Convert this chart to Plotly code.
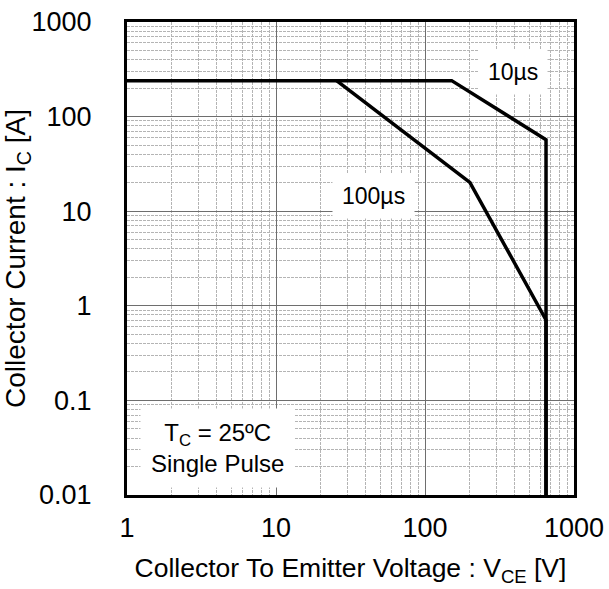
import numpy as np
import plotly.graph_objects as go

# 10 µs SOA boundary
vce_10us = [1, 151, 649, 649]
ic_10us = [240, 240, 57, 0.01]
# 100 µs SOA boundary
vce_100us = [25.5, 200, 649, 649]
ic_100us = [240, 20.2, 0.71, 0.01]

x_ticks = [1, 10, 100, 1000]
x_ticktext = ["1", "10", "100", "1000"]
y_ticks = [0.01, 0.1, 1, 10, 100, 1000]
y_ticktext = ["0.01", "0.1", "1", "10", "100", "1000"]

FONT = "Liberation Sans, Arial, sans-serif"

fig = go.Figure()
fig.add_trace(go.Scatter(x=vce_10us, y=ic_10us, mode="lines",
                         line=dict(color="black", width=3.5), showlegend=False))
fig.add_trace(go.Scatter(x=vce_100us, y=ic_100us, mode="lines",
                         line=dict(color="black", width=3.5), showlegend=False))

axis_common = dict(
    type="log",
    showline=True, mirror=True, linecolor="black", linewidth=3,
    showgrid=True, gridcolor="#6e6e6e", gridwidth=1,
    minor=dict(dtick="D1", showgrid=True, gridcolor="#b4b4b4", griddash="3px,1px", gridwidth=1, ticks=""),
    ticks="", zeroline=False,
    tickfont=dict(family=FONT, size=27, color="black"),
)

fig.update_xaxes(**axis_common, range=[0, 3], tickvals=x_ticks, ticktext=x_ticktext,
                 ticklabelstandoff=7, automargin=False,
                 title=dict(text="Collector To Emitter Voltage : V<sub>CE</sub> [V]",
                            font=dict(family=FONT, size=26.5, color="black"), standoff=17))
fig.update_yaxes(**axis_common, range=[-2, 3], tickvals=y_ticks, ticktext=y_ticktext,
                 ticklabelstandoff=27, automargin=False,
                 title=dict(text="Collector Current : I<sub>C</sub> [A]",
                            font=dict(family=FONT, size=28, color="black"), standoff=4))

fig.add_annotation(x=np.log10(390), y=np.log10(296), text="10µs", showarrow=False,
                   bgcolor="white", font=dict(family=FONT, size=23, color="black"), borderpad=9)
fig.add_annotation(x=np.log10(44.8), y=np.log10(14.4), text="100µs", showarrow=False,
                   bgcolor="white", font=dict(family=FONT, size=23, color="black"), borderpad=9)
fig.add_annotation(x=0.604, y=-1.503, text="T<sub>C</sub> = 25ºC<br>Single Pulse", showarrow=False,
                   bgcolor="white", font=dict(family=FONT, size=24, color="black"), borderpad=10)

fig.update_layout(
    width=609, height=589,
    margin=dict(l=127, r=35, t=22, b=94),
    plot_bgcolor="white", paper_bgcolor="white",
    font=dict(family=FONT, color="black"),
)

fig.write_html("out.html", config={"displayModeBar": False},
               post_script="document.body.style.margin='0';")
